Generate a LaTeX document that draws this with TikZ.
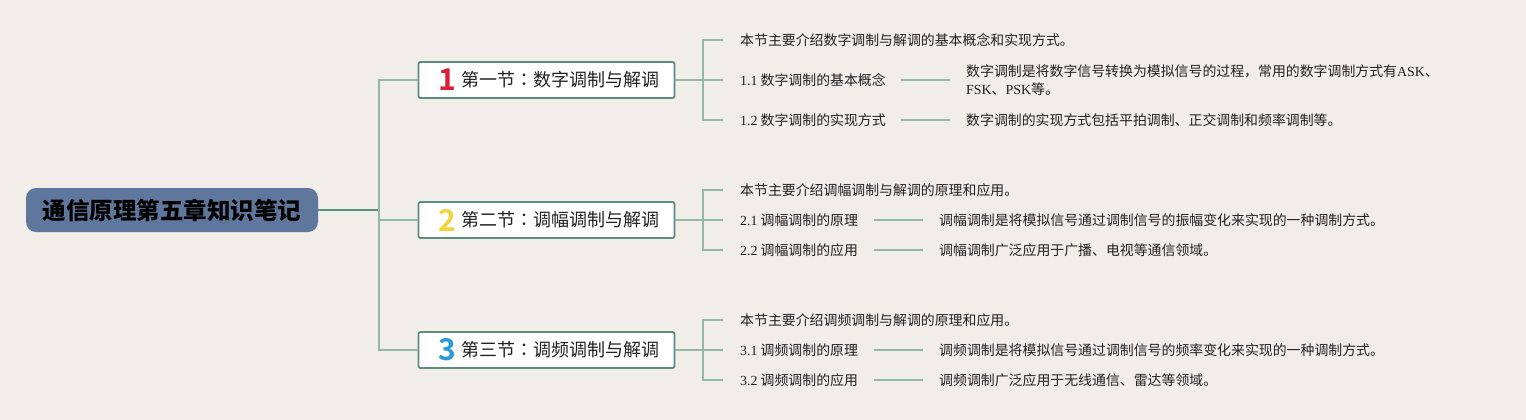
\documentclass[tikz,border=0pt]{standalone}
\usepackage{fontspec}
\setmainfont{Noto Sans CJK SC}
\newfontfamily\lat{Liberation Serif}
\newfontfamily\numf{Noto Sans CJK SC Bold}
\newfontfamily\jpf{Noto Sans CJK JP}
\definecolor{bgc}{HTML}{F1EDE8}
\definecolor{rootc}{HTML}{5F779D}
\definecolor{boxc}{HTML}{5B8E7D}
\definecolor{linec}{HTML}{93B8A8}
\definecolor{txtc}{HTML}{222222}
\definecolor{n1}{HTML}{D8203A}
\definecolor{n2}{HTML}{F2D43A}
\definecolor{n3}{HTML}{2A9AD8}
\begin{document}
\begin{tikzpicture}[x=1pt,y=-1pt,
  rootbox/.style={draw=none,fill=rootc,rounded corners=10pt,minimum width=292pt,minimum height=44pt,inner sep=0pt,
    font=\fontsize{23.5}{25}\selectfont\bfseries,text=black},
  secbox/.style={draw=boxc,line width=1.8pt,fill=white,rounded corners=2pt,minimum width=256pt,minimum height=36pt,inner sep=0pt},
  sectxt/.style={anchor=west,inner sep=0pt,font=\fontsize{18}{20}\selectfont,text=txtc},
  numtxt/.style={anchor=center,inner sep=0pt,font=\numf\fontsize{30}{30}\selectfont},
  leaf/.style={anchor=west,inner sep=0pt,font=\fontsize{13.9}{18}\selectfont,text=txtc,align=left},
  conn/.style={draw=linec,line width=1.5pt},
  rconn/.style={draw=boxc,line width=1.5pt}]
\fill[bgc] (0,0) rectangle (1526,420);
\useasboundingbox (0,0) rectangle (1526,420);

% root
\node[rootbox] (root) at (172,210) {通信原理第五章知识笔记};

% section boxes
\node[secbox] (b1) at (546.5,80) {};
\node[secbox] (b2) at (546.5,220) {};
\node[secbox] (b3) at (546.5,350) {};
\node[numtxt,text=n1] (n1) at (447,80) {1};
\node[numtxt,text=n2] (n2) at (447,220) {2};
\node[numtxt,text=n3] (n3) at (447,350) {3};
\node[sectxt] (t1) at (461,80) {第一节{\jpf ：}数字调制与解调};
\node[sectxt] (t2) at (461,220) {第二节{\jpf ：}调幅调制与解调};
\node[sectxt] (t3) at (461,350) {第三节{\jpf ：}调频调制与解调};

% trunk
\coordinate (tr0) at (379,210);
\coordinate (tr1) at (379,80);
\coordinate (tr2) at (379,220);
\coordinate (tr3) at (379,350);
\draw[rconn] (root.east) -- (tr0);
\draw[conn] (b1.west) -- (tr1) -- (tr3) -- (b3.west);
\draw[conn] (tr2) -- (b2.west);

% section 1
\coordinate (s1a) at (703,40);
\coordinate (s1b) at (703,80);
\coordinate (s1c) at (703,120);
\draw[conn] (b1.east) -- (s1b);
\node[leaf] (l10) at (740,40) {本节主要介绍数字调制与解调的基本概念和实现方式。};
\node[leaf] (l11) at (740,80) {{\lat 1.1} 数字调制的基本概念};
\node[leaf] (l12) at (740,120) {{\lat 1.2} 数字调制的实现方式};
\node[leaf] (d11) at (966,80) {数字调制是将数字信号转换为模拟信号的过程，常用的数字调制方式有{\lat ASK}、\\{\lat FSK}、{\lat PSK}等。};
\node[leaf] (d12) at (966,120) {数字调制的实现方式包括平拍调制、正交调制和频率调制等。};
\draw[conn] ([xshift=-17pt]l10.west) -- (s1a) -- (s1c) -- ([xshift=-17pt]l12.west);
\draw[conn] (s1b) -- ([xshift=-17pt]l11.west);
\draw[conn] ([xshift=15pt]l11.east) -- ([xshift=-16pt]d11.west);
\draw[conn] ([xshift=15pt]l12.east) -- ([xshift=-16pt]d12.west);

% section 2
\coordinate (s2a) at (703,190);
\coordinate (s2b) at (703,220);
\coordinate (s2c) at (703,250);
\draw[conn] (b2.east) -- (s2b);
\node[leaf] (l20) at (740,190) {本节主要介绍调幅调制与解调的原理和应用。};
\node[leaf] (l21) at (740,220) {{\lat 2.1} 调幅调制的原理};
\node[leaf] (l22) at (740,250) {{\lat 2.2} 调幅调制的应用};
\node[leaf] (d21) at (939,220) {调幅调制是将模拟信号通过调制信号的振幅变化来实现的一种调制方式。};
\node[leaf] (d22) at (939,250) {调幅调制广泛应用于广播、电视等通信领域。};
\draw[conn] ([xshift=-17pt]l20.west) -- (s2a) -- (s2c) -- ([xshift=-17pt]l22.west);
\draw[conn] (s2b) -- ([xshift=-17pt]l21.west);
\draw[conn] ([xshift=16pt]l21.east) -- ([xshift=-16pt]d21.west);
\draw[conn] ([xshift=16pt]l22.east) -- ([xshift=-16pt]d22.west);

% section 3
\coordinate (s3a) at (703,320);
\coordinate (s3b) at (703,350);
\coordinate (s3c) at (703,380);
\draw[conn] (b3.east) -- (s3b);
\node[leaf] (l30) at (740,320) {本节主要介绍调频调制与解调的原理和应用。};
\node[leaf] (l31) at (740,350) {{\lat 3.1} 调频调制的原理};
\node[leaf] (l32) at (740,380) {{\lat 3.2} 调频调制的应用};
\node[leaf] (d31) at (939,350) {调频调制是将模拟信号通过调制信号的频率变化来实现的一种调制方式。};
\node[leaf] (d32) at (939,380) {调频调制广泛应用于无线通信、雷达等领域。};
\draw[conn] ([xshift=-17pt]l30.west) -- (s3a) -- (s3c) -- ([xshift=-17pt]l32.west);
\draw[conn] (s3b) -- ([xshift=-17pt]l31.west);
\draw[conn] ([xshift=16pt]l31.east) -- ([xshift=-16pt]d31.west);
\draw[conn] ([xshift=16pt]l32.east) -- ([xshift=-16pt]d32.west);
\end{tikzpicture}
\end{document}
